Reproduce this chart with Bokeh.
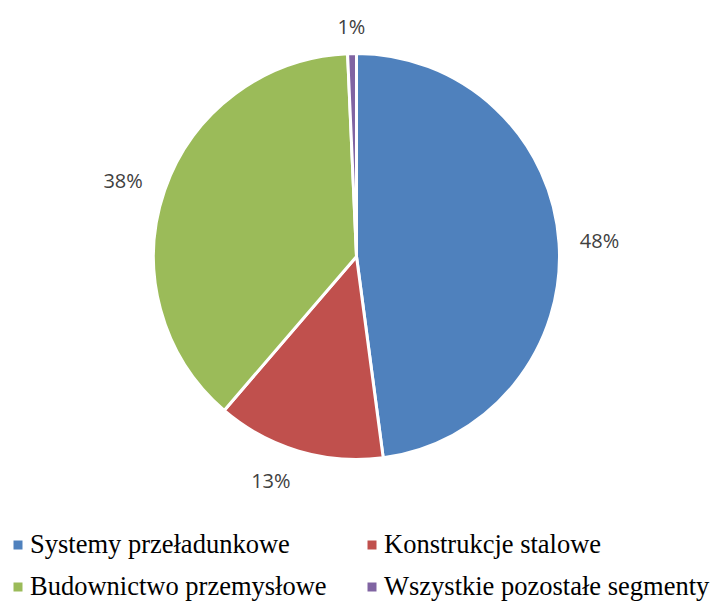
import math
from bokeh.plotting import figure
from bokeh.models import ColumnDataSource, Legend, LegendItem, Range1d
from bokeh.core.properties import value
from bokeh.embed import file_html
from bokeh.resources import INLINE

# ---- data ----
categories = ["Systemy przeładunkowe", "Konstrukcje stalowe",
              "Budownictwo przemysłowe", "Wszystkie pozostałe segmenty"]
shares = [47.9, 13.4, 38.0, 0.7]
colors = ["#4F81BD", "#C0504D", "#9BBB59", "#8064A2"]

# ---- geometry (style) ----
W, H = 713, 601
CX, CY = 356, 256          # pie centre in figure pixels (from top-left)
R = 203
LABEL_GAP = 223            # distance to nearest edge of the label box
HW, HH = 20, 9             # half extents of label box
# small label nudges (px) mimicking the original "best fit" placement
NUDGE_X = [0, -18, -2, 0]
NUDGE_Y = [0, 3, -4, -2]

total = float(sum(shares))
starts, ends, lx, ly, texts = [], [], [], [], []
cum = 0.0
for i, v in enumerate(shares):
    a0 = math.pi / 2 - 2 * math.pi * cum / total
    cum += v
    a1 = math.pi / 2 - 2 * math.pi * cum / total
    starts.append(a1)
    ends.append(a0)
    mid = (a0 + a1) / 2
    ux, uy = math.cos(mid), math.sin(mid)
    rr = LABEL_GAP + abs(ux) * HW + abs(uy) * HH
    lx.append(rr * ux + NUDGE_X[i])
    ly.append(rr * uy + NUDGE_Y[i])
    texts.append(f"{round(v / total * 100)}%")

src = ColumnDataSource(dict(cat=categories, share=shares, color=colors,
                            start=starts, end=ends))
lsrc = ColumnDataSource(dict(x=lx, y=ly, text=texts))

p = figure(width=W, height=H, output_backend="svg", toolbar_location=None,
           x_range=Range1d(-CX, W - CX), y_range=Range1d(-(H - CY), CY),
           x_axis_location=None, y_axis_location=None, min_border=0)
p.grid.visible = False
p.outline_line_color = None
p.background_fill_color = "white"
p.border_fill_color = "white"

wedges = p.wedge(x=0, y=0, radius=R, start_angle="start", end_angle="end",
                 fill_color="color", line_color="white", line_width=3,
                 source=src)

p.text(x="x", y="y", text="text", source=lsrc, text_align="center",
       text_baseline="middle", text_font=value("Open Sans"),
       text_font_size="20px", text_color="#404040")

items = [LegendItem(label=c, renderers=[wedges], index=i)
         for i, c in enumerate(categories)]
legend = Legend(items=items, orientation="horizontal", ncols=2,
                location=(10, -0.5), padding=0, margin=0, spacing=11,
                glyph_width=15, glyph_height=15, label_standoff=5,
                label_width=323, label_height=31,
                label_text_font="Liberation Serif", label_text_font_size="26.5px",
                label_text_color="#000000",
                border_line_color=None, background_fill_alpha=0)
p.add_layout(legend, "center")

open("out.html", "w").write(file_html(p, INLINE))
